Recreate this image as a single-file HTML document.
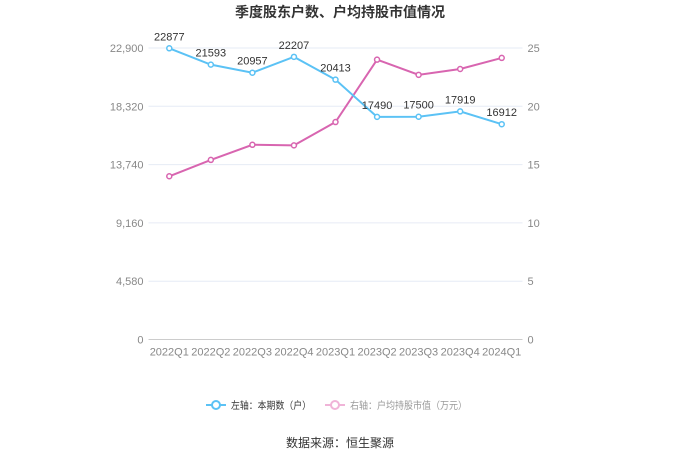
<!DOCTYPE html>
<html><head><meta charset="utf-8">
<style>
body{margin:0;background:#fff;font-family:"Liberation Sans","Noto Sans CJK SC",sans-serif;}
svg text{font-family:"Liberation Sans","Noto Sans CJK SC",sans-serif;}
</style></head>
<body>
<svg id="chart" width="680" height="460" xmlns="http://www.w3.org/2000/svg">
<text x="340" y="17" text-anchor="middle" font-size="14" font-weight="bold" fill="#333">季度股东户数、户均持股市值情况</text>
<g id="grid"></g><g id="axes"></g><g id="series"></g>
<g>
<g>
<line x1="206" y1="405" x2="226" y2="405" stroke="#5bc2f5" stroke-width="2"/>
<circle cx="216" cy="405" r="4" fill="#fff" stroke="#5bc2f5" stroke-width="2"/>
<text x="231" y="409" font-size="10" fill="#333" textLength="80" lengthAdjust="spacingAndGlyphs">左轴：本期数（户）</text></g>
<g>
<line x1="325" y1="405" x2="345" y2="405" stroke="#f0b4d8" stroke-width="2"/>
<circle cx="335" cy="405" r="4" fill="#fff" stroke="#f0b4d8" stroke-width="2"/>
<text x="350" y="409" font-size="10" fill="#999" textLength="117" lengthAdjust="spacingAndGlyphs">右轴：户均持股市值（万元）</text></g>
</g>
<text x="340" y="447" text-anchor="middle" font-size="12" fill="#333">数据来源：恒生聚源</text>
</svg>
<script>
const categories=["2022Q1","2022Q2","2022Q3","2022Q4","2023Q1","2023Q2","2023Q3","2023Q4","2024Q1"];
const holders=[22877,21593,20957,22207,20413,17490,17500,17919,16912];
const marketValue=[14.0,15.4,16.7,16.65,18.65,24.0,22.7,23.2,24.15];
const leftTicks=["0","4,580","9,160","13,740","18,320","22,900"];
const leftTickValues=[0,4580,9160,13740,18320,22900];
const rightTicks=[0,5,10,15,20,25];
const NS="http://www.w3.org/2000/svg";
const L=148.5,R=522.5,T=48,B=339.5;
const band=(R-L)/categories.length;
const xs=i=>L+band*(i+0.5);
const yl=v=>B-(v/22900)*(B-T);
const yr=v=>B-(v/25)*(B-T);
function mk(tag,attrs,parent){const e=document.createElementNS(NS,tag);for(const k in attrs)e.setAttribute(k,attrs[k]);document.getElementById(parent).appendChild(e);return e;}
leftTickValues.forEach((v,i)=>{
 const y=yl(v);
 const g=mk('line',{x1:L,x2:R,y1:y,y2:y,stroke:i===0?'#ccc':'#e6ebf5','stroke-width':1},'grid');
 
 
 const t=mk('text',{x:L-5,y:y+4,'text-anchor':'end','font-size':11,fill:'#888'},'axes');
 t.textContent=leftTicks[i];
 
 
});
rightTicks.forEach(v=>{
 const t=mk('text',{x:R+5,y:yr(v)+4,'font-size':11,fill:'#888'},'axes');
 t.textContent=v;
 
 
});
categories.forEach((c,i)=>{
 const t=mk('text',{x:xs(i),y:B+16,'text-anchor':'middle','font-size':11,fill:'#888'},'axes');
 t.textContent=c;
 
 
});
function line(vals,yf,color,name,labels){
 const p=mk('polyline',{points:vals.map((v,i)=>xs(i)+','+yf(v)).join(' '),fill:'none',stroke:color,'stroke-width':2},'series');
 
 
 vals.forEach((v,i)=>{
  const c=mk('circle',{cx:xs(i),cy:yf(v),r:2.5,fill:'#fff',stroke:color,'stroke-width':1.5},'series');
  
  
  if(labels){
   const t=mk('text',{x:xs(i),y:yf(v)-8,'text-anchor':'middle','font-size':11,fill:'#333'},'series');
   t.textContent=v;
   
   
  }
 });
}
line(marketValue,yr,'#d865b0','market-value',false);
line(holders,yl,'#5bc2f5','holders',true);
</script>
</body></html>
